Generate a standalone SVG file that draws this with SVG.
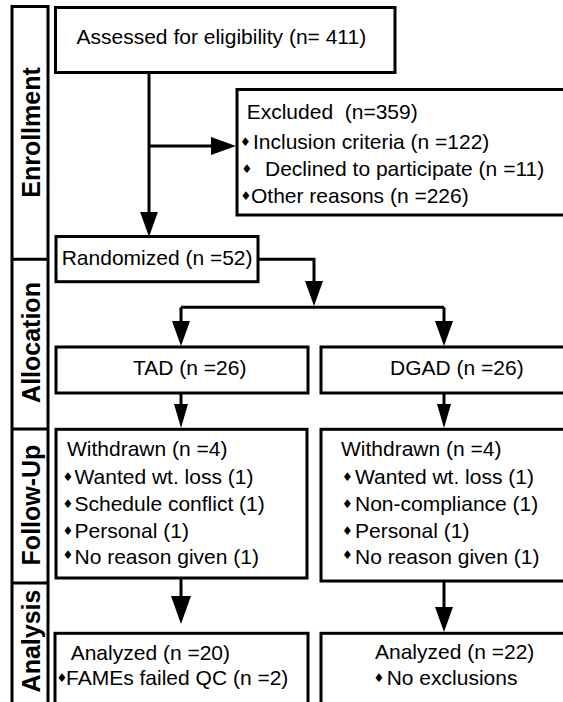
<svg xmlns="http://www.w3.org/2000/svg" width="563" height="702" viewBox="0 0 563 702">
<style>
.box{fill:#fff;stroke:#000;stroke-width:3}
.t{font-family:"Liberation Sans",Arial,sans-serif;font-size:21px;fill:#000}
.lab{font-family:"Liberation Sans",Arial,sans-serif;font-size:25px;font-weight:bold;fill:#000;text-anchor:middle}
.b{font-family:"DejaVu Sans",sans-serif;font-size:12px}
.ln{fill:none;stroke:#000;stroke-width:3}
</style>
<defs>
<marker id="a" markerUnits="userSpaceOnUse" markerWidth="25" markerHeight="18" refX="15" refY="9" orient="auto"><path d="M0,0 L25,9 L0,18 z" fill="#000"/></marker>
<marker id="s" markerUnits="userSpaceOnUse" markerWidth="24" markerHeight="14" refX="14" refY="7" orient="auto"><path d="M0,0 L24,7 L0,14 z" fill="#000"/></marker>
<marker id="bg" markerUnits="userSpaceOnUse" markerWidth="28" markerHeight="20" refX="18" refY="10" orient="auto"><path d="M0,0 L28,10 L0,20 z" fill="#000"/></marker>
</defs>
<rect width="563" height="702" fill="#fff"/>
<g id="phases">
<rect class="box" x="12" y="6.5" width="36" height="720"/>
<line class="ln" x1="12" y1="259.3" x2="48" y2="259.3"/>
<line class="ln" x1="12" y1="429" x2="48" y2="429"/>
<line class="ln" x1="12" y1="583" x2="48" y2="583"/>
<text class="lab" transform="translate(39.5,132.5) rotate(-90)">Enrollment</text>
<text class="lab" transform="translate(39.5,342.5) rotate(-90)">Allocation</text>
<text class="lab" transform="translate(39.5,505) rotate(-90)">Follow-Up</text>
<text class="lab" transform="translate(39.5,641) rotate(-90)">Analysis</text>
</g>
<g id="connectors">
<line class="ln" x1="149" y1="72.7" x2="149" y2="226.7" marker-end="url(#a)"/>
<line class="ln" x1="149" y1="146" x2="226" y2="146" marker-end="url(#a)"/>
<path class="ln" d="M258,259.3 H314 V296" marker-end="url(#a)"/>
<line class="ln" x1="181" y1="307.3" x2="444" y2="307.3"/>
<line class="ln" x1="181" y1="307.3" x2="181" y2="336" marker-end="url(#a)"/>
<line class="ln" x1="444" y1="307.3" x2="444" y2="336" marker-end="url(#a)"/>
<line class="ln" x1="181" y1="393" x2="181" y2="418" marker-end="url(#s)"/>
<line class="ln" x1="444" y1="393" x2="444" y2="418" marker-end="url(#s)"/>
<line class="ln" x1="181" y1="578" x2="181" y2="614" marker-end="url(#bg)"/>
<line class="ln" x1="444" y1="581" x2="444" y2="622" marker-end="url(#a)"/>
</g>
<g id="assessed">
<rect class="box" x="55.5" y="7.5" width="339.5" height="65"/>
<text class="t" x="76.5" y="43.5">Assessed for eligibility (n= 411)</text>
</g>
<g id="excluded">
<rect class="box" x="237" y="89.5" width="400" height="125.5"/>
<text class="t" x="246.7" y="119.3" xml:space="preserve">Excluded  (n=359)</text>
<text class="t" y="149"><tspan class="b" x="240" dy="-3">♦</tspan><tspan x="253" dy="3">Inclusion criteria (n =122)</tspan></text>
<text class="t" y="176"><tspan class="b" x="241.5" dy="-3">♦</tspan><tspan x="265" dy="3">Declined to participate (n =11)</tspan></text>
<text class="t" y="202.5"><tspan class="b" x="240.5" dy="-3">♦</tspan><tspan x="251" dy="3">Other reasons (n =226)</tspan></text>
</g>
<g id="randomized">
<rect class="box" x="56" y="236.5" width="202" height="45.2"/>
<text class="t" x="61.7" y="265">Randomized (n =52)</text>
</g>
<g id="tad">
<rect class="box" x="56" y="347" width="252" height="46"/>
<text class="t" x="133" y="375">TAD (n =26)</text>
</g>
<g id="dgad">
<rect class="box" x="321" y="347" width="300" height="46"/>
<text class="t" x="390" y="375">DGAD (n =26)</text>
</g>
<g id="withdrawn-tad">
<rect class="box" x="56" y="429.3" width="251" height="148.7"/>
<text class="t" x="67" y="456">Withdrawn (n =4)</text>
<text class="t" y="484"><tspan class="b" x="62.5" dy="-3">♦</tspan><tspan x="74.5" dy="3">Wanted wt. loss (1)</tspan></text>
<text class="t" y="510.5"><tspan class="b" x="62.5" dy="-3">♦</tspan><tspan x="74.5" dy="3">Schedule conflict (1)</tspan></text>
<text class="t" y="537.5"><tspan class="b" x="62.5" dy="-3">♦</tspan><tspan x="74.5" dy="3">Personal (1)</tspan></text>
<text class="t" y="564"><tspan class="b" x="62.5" dy="-5">♦</tspan><tspan x="74.5" dy="5">No reason given (1)</tspan></text>
</g>
<g id="withdrawn-dgad">
<rect class="box" x="321" y="429.3" width="300" height="151.7"/>
<text class="t" x="341" y="456">Withdrawn (n =4)</text>
<text class="t" y="484"><tspan class="b" x="342" dy="-3">♦</tspan><tspan x="355" dy="3">Wanted wt. loss (1)</tspan></text>
<text class="t" y="510.5"><tspan class="b" x="342" dy="-3">♦</tspan><tspan x="355" dy="3">Non-compliance (1)</tspan></text>
<text class="t" y="537.5"><tspan class="b" x="342" dy="-3">♦</tspan><tspan x="355" dy="3">Personal (1)</tspan></text>
<text class="t" y="564"><tspan class="b" x="342" dy="-5">♦</tspan><tspan x="355" dy="5">No reason given (1)</tspan></text>
</g>
<g id="analyzed-tad">
<rect class="box" x="55" y="633.3" width="253" height="100"/>
<text class="t" x="70.7" y="660">Analyzed (n =20)</text>
<text class="t" y="685"><tspan class="b" x="56.5" dy="-3">♦</tspan><tspan x="66" dy="3">FAMEs failed QC (n =2)</tspan></text>
</g>
<g id="analyzed-dgad">
<rect class="box" x="321" y="633.3" width="300" height="100"/>
<text class="t" x="375" y="659.3">Analyzed (n =22)</text>
<text class="t" y="685"><tspan class="b" x="373.5" dy="-3">♦</tspan><tspan x="386.7" dy="3">No exclusions</tspan></text>
</g>
</svg>
